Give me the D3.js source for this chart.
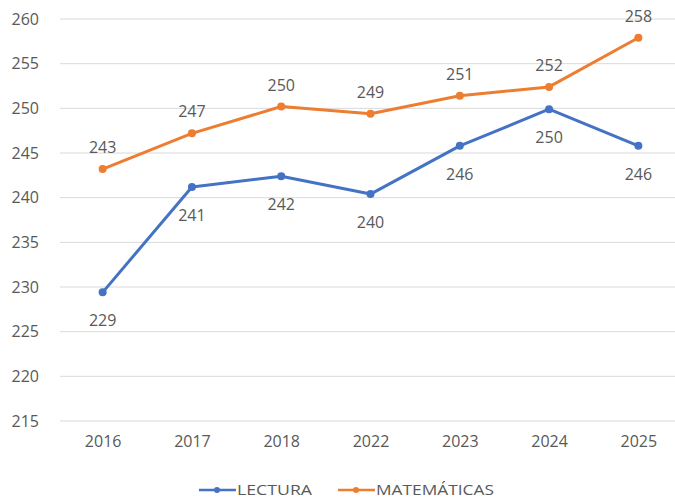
<!DOCTYPE html>
<html>
<head>
<meta charset="utf-8">
<script src="https://cdn.jsdelivr.net/npm/d3@7"></script>
<style>
  body { margin: 0; background: #fff; }
  text { font-family: "Open Sans", sans-serif; fill: #595959; }
</style>
</head>
<body>
<div class="main"></div>
<script>
const years = ["2016", "2017", "2018", "2022", "2023", "2024", "2025"];
const lectura = [229.4, 241.2, 242.4, 240.4, 245.8, 249.9, 245.8];
const matematicas = [243.2, 247.2, 250.2, 249.4, 251.4, 252.4, 257.9];
const yTicks = [215, 220, 225, 230, 235, 240, 245, 250, 255, 260];

const w = 675;
const h = 499;

const svg = d3.select(".main").append("svg").attr("width", w).attr("height", h);

const xScale = d3.scalePoint().domain(years).range([58, 683]).padding(0.5);
const yScale = d3.scaleLinear().domain([215, 260]).range([421, 19]);

// gridlines
svg.append("g")
    .selectAll("line")
    .data(yTicks)
    .enter()
    .append("line")
    .attr("x1", 60)
    .attr("x2", 675)
    .attr("y1", (d) => yScale(d))
    .attr("y2", (d) => yScale(d))
    .attr("stroke", "#d9d9d9")
    .attr("stroke-width", 1);

// y axis labels
const yAxis = d3.axisLeft(yScale).tickValues(yTicks).tickSize(0).tickPadding(0);
svg.append("g")
    .attr("transform", "translate(39,0)")
    .call(yAxis)
    .call((g) => g.select(".domain").remove())
    .selectAll("text")
    .attr("font-size", 16)
    .attr("font-family", "Open Sans, sans-serif")
    .attr("fill", "#595959");

// x axis labels
const xAxis = d3.axisBottom(xScale).tickSize(0).tickPadding(0);
svg.append("g")
    .attr("transform", "translate(0,436)")
    .call(xAxis)
    .call((g) => g.select(".domain").remove())
    .selectAll("text")
    .attr("font-size", 16)
    .attr("font-family", "Open Sans, sans-serif")
    .attr("fill", "#595959");

const series = [
    { name: "LECTURA", values: lectura, color: "#4472C4", dy: 34 },
    { name: "MATEMÁTICAS", values: matematicas, color: "#ED7D31", dy: -16 }
];

const line = d3.line()
    .x((d, i) => xScale(years[i]))
    .y((d) => yScale(d));

series.forEach((s) => {
    const g = svg.append("g");
    g.append("path")
        .datum(s.values)
        .attr("fill", "none")
        .attr("stroke", s.color)
        .attr("stroke-width", 3)
        .attr("stroke-linejoin", "round")
        .attr("d", line);

    g.selectAll("circle")
        .data(s.values)
        .enter()
        .append("circle")
        .attr("cx", (d, i) => xScale(years[i]))
        .attr("cy", (d) => yScale(d))
        .attr("r", 4)
        .attr("fill", s.color);

    g.selectAll("text")
        .data(s.values)
        .enter()
        .append("text")
        .attr("x", (d, i) => xScale(years[i]))
        .attr("y", (d) => yScale(d) + s.dy)
        .attr("text-anchor", "middle")
        .attr("font-size", 16)
        .text((d) => Math.round(d));
});

// legend
const legendPos = [199, 338];
const legendTextLen = [75, 118];
series.forEach((s, i) => {
    const lg = svg.append("g").attr("transform", `translate(${legendPos[i]},490)`);
    lg.append("line")
        .attr("x1", 0)
        .attr("x2", 37)
        .attr("stroke", s.color)
        .attr("stroke-width", 2.5);
    lg.append("circle").attr("cx", 18).attr("r", 3).attr("fill", s.color);
    lg.append("text")
        .attr("x", 38)
        .attr("dy", "0.36em")
        .attr("font-size", 14.5)
        .attr("textLength", legendTextLen[i])
        .attr("lengthAdjust", "spacingAndGlyphs")
        .text(s.name);
});
</script>
</body>
</html>
